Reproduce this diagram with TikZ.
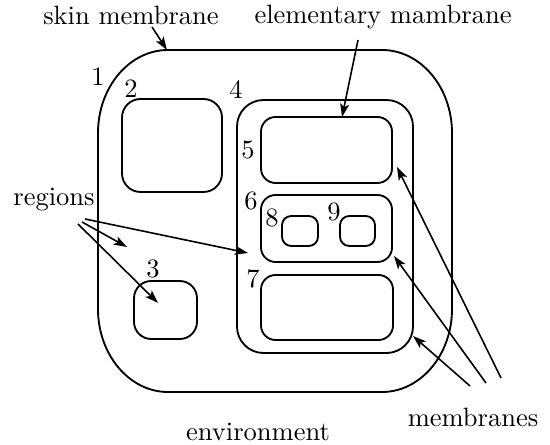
\documentclass[tikz,border=0pt]{standalone}
\usetikzlibrary{arrows.meta}
\newlength\pu \setlength\pu{0.3774pt}
\begin{document}
\begin{tikzpicture}[x=0.3774pt,y=-0.3774pt,
  mem/.style={draw, line width=0.7pt, inner sep=0pt, rounded corners=#1},
  lab/.style={inner sep=0pt},
  arr/.style={line width=0.6pt, -{Stealth[length=5pt,width=3.4pt,inset=1.2pt]}}]
\useasboundingbox (0,0) rectangle (550,445);
% skin membrane
\draw[line width=0.7pt] (98,133) .. controls (98,87.2) and (129.4,50) .. (168,50) -- (382,50)
  .. controls (420.6,50) and (452,87.2) .. (452,133) -- (452,309)
  .. controls (452,354.8) and (420.6,392) .. (382,392) -- (168,392)
  .. controls (129.4,392) and (98,354.8) .. (98,309) -- cycle;
\coordinate (skintop) at (167,50);
% inner membranes
\node[mem=7pt, minimum width=100*\pu, minimum height=93*\pu] (r2) at (172,145.5) {};
\node[mem=10pt, minimum width=176*\pu, minimum height=253*\pu] (m4) at (325,226.5) {};
\node[mem=5.5pt, minimum width=131*\pu, minimum height=66*\pu] (m5) at (326.5,150) {};
\node[mem=5.5pt, minimum width=131*\pu, minimum height=67*\pu] (m6) at (326.5,228.5) {};
\node[mem=3.5pt, minimum width=36*\pu, minimum height=30*\pu] (b8) at (300,231) {};
\node[mem=3.5pt, minimum width=35*\pu, minimum height=30*\pu] (b9) at (357.5,231) {};
\node[mem=5.5pt, minimum width=132*\pu, minimum height=65*\pu] (m7) at (327,307.5) {};
\node[mem=6.5pt, minimum width=63*\pu, minimum height=58*\pu] (r3) at (165.5,310) {};
% numbers
\node[lab] (n1) at (98,77) {1};
\node[lab] (n2) at (131,89) {2};
\node[lab] (n3) at (153,269) {3};
\node[lab] (n4) at (236,90) {4};
\node[lab] (n5) at (248,150) {5};
\node[lab] (n6) at (251,201) {6};
\node[lab] (n7) at (253,279) {7};
\node[lab] (n8) at (272,218) {8};
\node[lab] (n9) at (334,212) {9};
% labels
\node[lab] (skin) at (131,15) {skin membrane};
\node[lab] (elem) at (383,17) {elementary mambrane};
\node[lab] (reg) at (54,200) {regions};
\node[lab] (mems) at (473,417) {membranes};
\node[lab] (env) at (258,432) {environment};
% arrow endpoints
\coordinate (s1) at (152,27);
\coordinate (e1) at (358,40);
\coordinate (e2) at (342,117);
\coordinate (ra) at (85,219);
\coordinate (rb) at (82,222);
\coordinate (rc) at (78,224);
\coordinate (ta) at (248,253);
\coordinate (tb) at (127,247);
\coordinate (tc) at (158,303);
\coordinate (ma) at (470,386);
\coordinate (mb) at (486,383);
\coordinate (mc) at (501,378);
\coordinate (ua) at (413,336);
\coordinate (ub) at (394,256);
\coordinate (uc) at (397,167);
% arrows
\draw[arr] (s1) -- (skintop);
\draw[arr] (e1) -- (e2);
\draw[arr] (ra) -- (ta);
\draw[arr] (rb) -- (tb);
\draw[arr] (rc) -- (tc);
\draw[arr] (ma) -- (ua);
\draw[arr] (mb) -- (ub);
\draw[arr] (mc) -- (uc);
\end{tikzpicture}
\end{document}
